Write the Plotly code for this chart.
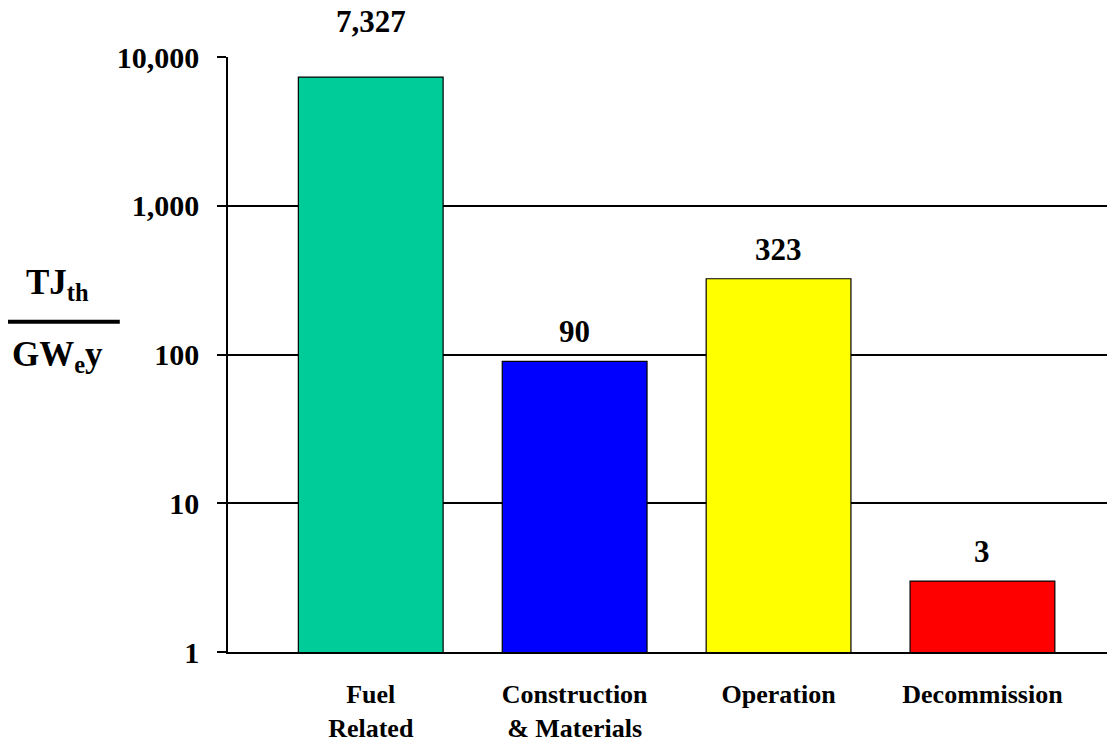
import math
import plotly.graph_objects as go

# ── Data ──────────────────────────────────────────────────────────────────────
CATEGORIES = ["Fuel<br>Related", "Construction<br>& Materials", "Operation", "Decommission"]
VALUES     = [7327, 90, 323, 3]
LABELS     = ["7,327", "90", "323", "3"]
COLORS     = ["#00CC99", "#0000FF", "#FFFF00", "#FF0000"]
LABEL_SHIFT = [36, 10, 10, 10]

TICK_VALS  = [1, 10, 100, 1000, 10000]
TICK_TEXT  = ["1", "10", "100", "1,000", "10,000"]

FONT = "Liberation Serif, Times New Roman, serif"

fig = go.Figure(go.Bar(
    x=CATEGORIES,
    y=VALUES,
    width=0.71,
    marker_color=COLORS,
    marker_line=dict(color="black", width=1.2),
))

for cat, v, lab, s in zip(CATEGORIES, VALUES, LABELS, LABEL_SHIFT):
    fig.add_annotation(
        x=cat, y=math.log10(v), text=f"<b>{lab}</b>",
        showarrow=False, yanchor="bottom", yshift=s,
        font=dict(family=FONT, size=31, color="black"),
    )

# y-axis title as a fraction
fig.add_annotation(xref="paper", yref="paper", x=-0.192, y=0.617,
                   text="<b>TJ<sub>th</sub></b>", showarrow=False,
                   xanchor="center", yanchor="middle",
                   font=dict(family=FONT, size=35, color="black"))
fig.add_annotation(xref="paper", yref="paper", x=-0.192, y=0.497,
                   text="<b>GW<sub>e</sub>y</b>", showarrow=False,
                   xanchor="center", yanchor="middle",
                   font=dict(family=FONT, size=35, color="black"))
fig.add_shape(type="line", xref="paper", yref="paper",
              x0=-0.248, x1=-0.122, y0=0.555, y1=0.555,
              line=dict(color="black", width=4))

fig.update_layout(
    width=1107, height=734,
    paper_bgcolor="white", plot_bgcolor="white",
    margin=dict(l=220, r=0, t=49, b=90),
    showlegend=False,
    font=dict(family=FONT, color="black"),
    xaxis=dict(
        range=[-0.7, 3.65],
        showgrid=False, zeroline=False,
        showline=True, linecolor="black", linewidth=1.5,
        ticks="", ticklabelstandoff=18,
        tickfont=dict(family=FONT, size=26, color="black"),
        tickprefix="<b>", ticksuffix="</b>",
    ),
    yaxis=dict(
        type="log", range=[0, 4],
        tickvals=TICK_VALS, ticktext=[f"<b>{t}</b>" for t in TICK_TEXT],
        showgrid=True, gridcolor="black", gridwidth=1.5,
        showline=True, linecolor="black", linewidth=1.5,
        ticks="outside", ticklen=9, tickcolor="black", tickwidth=1.5,
        ticklabelstandoff=12,
        tickfont=dict(family=FONT, size=30, color="black"),
        zeroline=False,
    ),
)

fig.write_html("out.html")
